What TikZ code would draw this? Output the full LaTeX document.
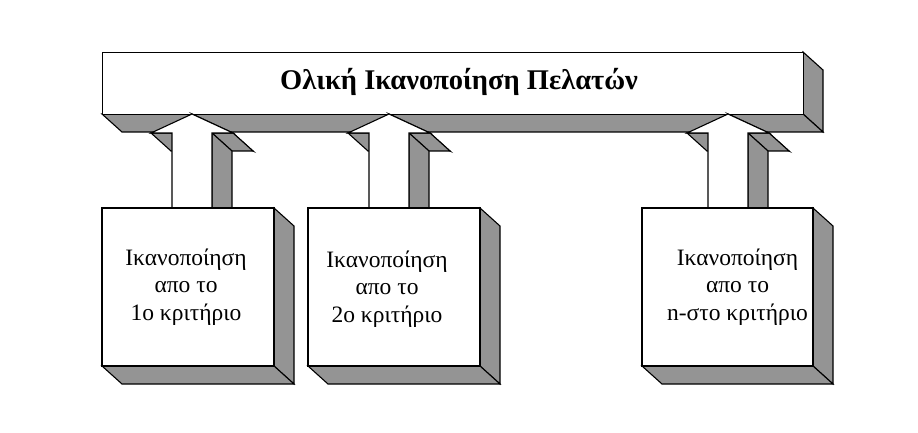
\documentclass[tikz,border=0pt]{standalone}
\usepackage{fontspec}
\setmainfont{Liberation Serif}
\begin{document}
\begin{tikzpicture}[x=1pt,y=-1pt,line width=1.1pt,
  side/.style={fill=black!42,draw=black,line join=miter},
  front/.style={fill=white,draw=black,line join=miter},
  boxtext/.style={font=\fontsize{23.5}{27.5}\selectfont,align=center}]
\useasboundingbox (0,0) rectangle (918,433);
% bar
\def\dx{20}\def\dy{18}
\path[side] (803,52) -- (803+\dx,52+\dy) -- (803+\dx,114+\dy) -- (803,114) -- cycle;
\path[side] (102,114) -- (803,114) -- (803+\dx,114+\dy) -- (102+\dx,114+\dy) -- cycle;
\node[front,minimum width=701pt,minimum height=62pt,anchor=north west,inner sep=0] (bar) at (102,52) {};
\node[font=\fontsize{28.5}{32}\selectfont\bfseries] at (459,82) {Ολική Ικανοποίηση Πελατών};
% arrows
\foreach \c in {192,389,728}{
  \path[side] (\c,114) -- (\c+41,133) -- (\c+41+\dx,133+\dy) -- (\c+\dx,114+\dy) -- cycle;
  \path[side] (\c-41,133) -- (\c-20,133) -- (\c-20+\dx,133+\dy) -- (\c-41+\dx,133+\dy) -- cycle;
  \path[side] (\c+41,133) -- (\c+20,133) -- (\c+20+\dx,133+\dy) -- (\c+41+\dx,133+\dy) -- cycle;
  \path[side] (\c+20,133) -- (\c+20,208) -- (\c+20+\dx,208+\dy) -- (\c+20+\dx,133+\dy) -- cycle;
  \path[front] (\c,114) -- (\c+41,133) -- (\c+20,133) -- (\c+20,208) -- (\c-20,208) -- (\c-20,133) -- (\c-41,133) -- cycle;
}
% boxes
\foreach \n/\xa/\xb in {b1/102/274, b2/308/480, b3/642/813}{
  \path[side] (\xb,208) -- (\xb+\dx,208+\dy) -- (\xb+\dx,366+\dy) -- (\xb,366) -- cycle;
  \path[side] (\xa,366) -- (\xb,366) -- (\xb+\dx,366+\dy) -- (\xa+\dx,366+\dy) -- cycle;
  \path[front] (\xa,208) rectangle (\xb,366);
  \coordinate (\n) at ({(\xa+\xb)/2},287);
}
\node[boxtext] at ([xshift=-2pt]b1) {Ικανοποίηση\\απο το\\1ο κριτήριο};
\node[boxtext] at ([xshift=-7pt,yshift=-2pt]b2) {Ικανοποίηση\\απο το\\2ο κριτήριο};
\node[boxtext] at ([xshift=10pt]b3) {Ικανοποίηση\\απο το\\n-στο κριτήριο};
\end{tikzpicture}
\end{document}
